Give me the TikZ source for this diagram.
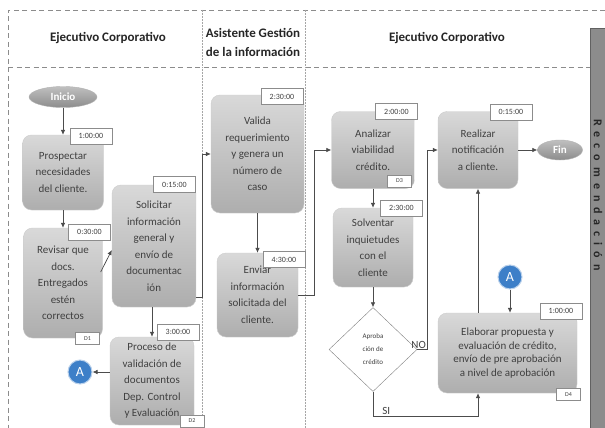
\documentclass[tikz,border=0pt]{standalone}
\usepackage{fontspec}
\setmainfont{Carlito}
\usepackage{xcolor}
\usepackage{tikz}
\usetikzlibrary{arrows.meta,positioning,shapes.geometric}
\definecolor{connblue}{HTML}{3D7FC8}

\begin{document}
\begin{tikzpicture}[
  x=1pt, y=-1pt,
  proc/.style={rounded corners=9pt, top color=black!15, bottom color=black!32, draw=black!20, text=black!75, align=center, inner sep=1pt, font=\fontsize{11}{16.5}\selectfont},
  tlabel/.style={draw=black!45, fill=white, text=black!75, minimum width=42pt, minimum height=16pt, inner sep=1pt, font=\fontsize{8}{9}\selectfont},
  dlabel/.style={draw=black!45, fill=white, text=black!75, minimum width=24pt, minimum height=12pt, inner sep=0pt, font=\fontsize{6}{7}\selectfont},
  term/.style={ellipse, top color=black!25, bottom color=black!45, draw=black!30, text=white, inner sep=0pt, font=\bfseries\fontsize{11}{12}\selectfont},
  conn/.style={circle, fill=connblue, draw=connblue!35!white, line width=1pt, text=white, minimum size=24pt, inner sep=0pt, font=\fontsize{14}{14}\selectfont},
  dec/.style={diamond, draw=black!50, fill=white, minimum width=88pt, minimum height=84pt, inner sep=0pt, align=center, text=black!75, font=\fontsize{7}{13}\selectfont},
  hdr/.style={align=center, text=black!85, font=\bfseries\fontsize{13}{19}\selectfont},
  lane/.style={draw=black!45, line width=0.9pt, dash pattern=on 5pt off 3.5pt},
  arr/.style={-{Latex[length=5pt,width=4.5pt]}, draw=black!70, line width=0.7pt},
  lbl/.style={text=black!75, inner sep=1pt, font=\fontsize{11}{12}\selectfont}
]
\fill[white] (0,0) rectangle (605,428);
\useasboundingbox (0,0) rectangle (605,428);

\draw[lane] (605,10) -- (8,10) -- (8,428);
\draw[lane] (8,67) -- (590,67);
\draw[black!35, line width=0.5pt, densely dotted] (202,10) -- (202,428);
\draw[black!35, line width=0.5pt, densely dotted] (305,10) -- (305,428);
\draw[fill=black!45, draw=black!62] (590,28) rectangle (606,428);

\node[hdr] (h1) at (108,38) {Ejecutivo Corporativo};
\node[hdr] (h2) at (253,42) {Asistente Gestión\\de la información};
\node[hdr] (h3) at (447,38) {Ejecutivo Corporativo};
\node[rotate=-90, text=black!85, font=\bfseries\fontsize{12}{13}\selectfont\addfontfeature{LetterSpace=50}] (reco) at (598,195) {Recomendación};

\node[term, minimum width=68pt, minimum height=21pt] (inicio) at (63,97) {Inicio};
\node[proc, minimum width=81pt, minimum height=75pt] (prosp) at (63,172.5) {Prospectar\\necesidades\\del cliente.};
\node[proc, minimum width=79pt, minimum height=110pt] (revisar) at (63,283) {Revisar que\\docs.\\Entregados\\estén\\correctos};
\node[proc, minimum width=84pt, minimum height=122pt] (solic) at (154,246) {Solicitar\\información\\general y\\envío de\\documentac\\ión};
\node[proc, minimum width=84pt, minimum height=88pt] (proceso) at (152,381) {Proceso de\\validación de\\documentos\\Dep. Control\\y Evaluación};
\node[conn] (a1) at (80,372) {A};
\node[proc, minimum width=93pt, minimum height=118pt] (valida) at (257.5,154) {Valida\\requerimiento\\y genera un\\número de\\caso};
\node[proc, minimum width=81pt, minimum height=84pt] (enviar) at (257.5,295) {Enviar\\información\\solicitada del\\cliente.};
\node[proc, minimum width=83pt, minimum height=77pt] (analizar) at (373,150) {Analizar\\viabilidad\\crédito.};
\node[proc, minimum width=80pt, minimum height=79pt] (solvent) at (373,247.5) {Solventar\\inquietudes\\con el\\cliente};
\node[dec] (aprob) at (373,349.5) {Aproba\\ción de\\crédito};
\node[proc, minimum width=80pt, minimum height=77pt] (realizar) at (478,150) {Realizar\\notificación\\a cliente.};
\node[term, minimum width=45pt, minimum height=20pt] (fin) at (560,150) {Fin};
\node[proc, minimum width=139pt, minimum height=80pt, font=\fontsize{11}{13.5}\selectfont] (elab) at (507.5,353) {Elaborar propuesta y\\evaluación de crédito,\\envío de pre aprobación\\a nivel de aprobación};
\node[conn] (a2) at (510,277) {A};

\node[tlabel] (t1) at (91,136) {1:00:00};
\node[tlabel] (t2) at (89.5,232) {0:30:00};
\node[tlabel] (t3) at (174.5,184.5) {0:15:00};
\node[tlabel] (t4) at (178,332) {3:00:00};
\node[tlabel] (t5) at (282,96.5) {2:30:00};
\node[tlabel] (t6) at (284,259.5) {4:30:00};
\node[tlabel] (t7) at (396.5,111.5) {2:00:00};
\node[tlabel] (t8) at (401.5,208) {2:30:00};
\node[tlabel] (t9) at (511,112) {0:15:00};
\node[tlabel] (t10) at (561,311) {1:00:00};

\node[dlabel] (d1) at (87.5,338.5) {D1};
\node[dlabel] (d2) at (192,421) {D2};
\node[dlabel] (d3) at (399.5,181) {D3};
\node[dlabel] (d4) at (568.5,394.5) {D4};

\draw[arr] (inicio) -- (prosp);
\draw[arr] (prosp) -- (revisar);
\draw[arr] ([xshift=-2pt,yshift=11pt]revisar.east) -- ([yshift=-4pt]solic.west);
\draw[arr] (proceso.north |- solic.south) -- (proceso.north);
\draw[arr] (proceso.west |- a1) -- (a1);
\draw[arr] ([yshift=10pt]solic.south east) -- ++(6,0) |- (valida.west);
\draw[arr] (valida) -- (enviar);
\draw[arr] (enviar.east) -- ++(16,0) |- (analizar.west);
\draw[arr] (analizar) -- (solvent);
\draw[arr] (solvent) -- (aprob);
\draw[arr] (aprob.east) -- ++(10,0) node[lbl, above left] {NO} |- (realizar.west);
\draw[arr] (aprob.south) -- ++(0,24.5) node[lbl, above right, xshift=8pt] {SI} -| (realizar.south |- elab.south);
\draw[arr] (realizar.south |- elab.north) -- (realizar.south);
\draw[arr] (a2) -- (a2 |- elab.north);
\draw[arr] (realizar) -- (fin);
\end{tikzpicture}
\end{document}
